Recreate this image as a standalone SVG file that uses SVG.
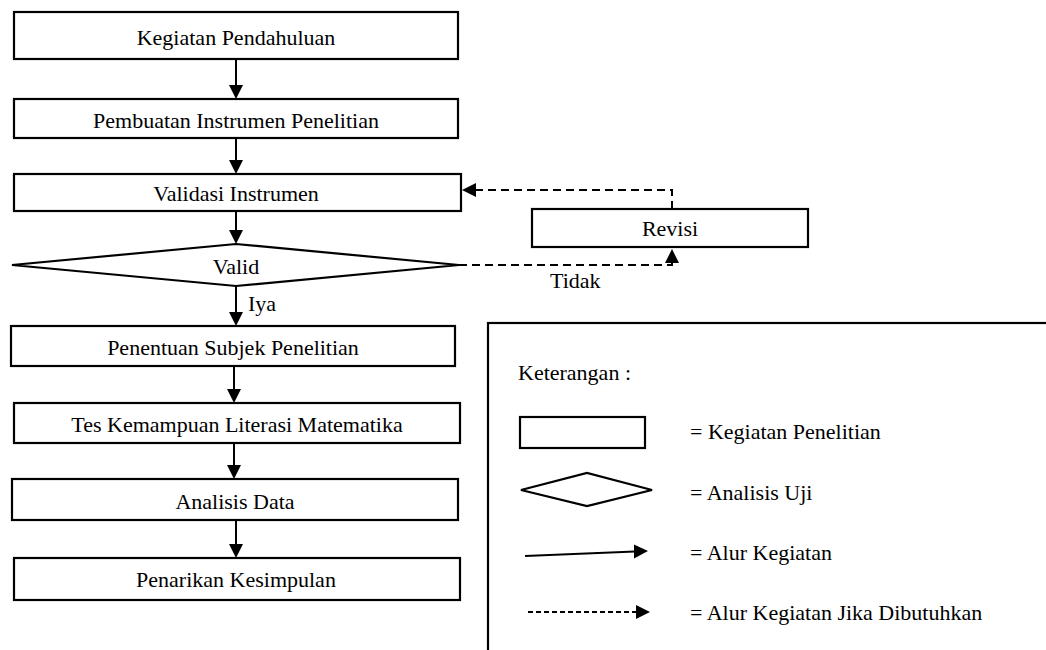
<svg xmlns="http://www.w3.org/2000/svg" width="1046" height="650" viewBox="0 0 1046 650">
<style>
.box{fill:#fff;stroke:#000;stroke-width:2.2}
.ln{stroke:#000;stroke-width:2;fill:none}
.ds{stroke:#000;stroke-width:2;fill:none;stroke-dasharray:8 5}
.ah{fill:#000;stroke:none}
</style>
<rect width="1046" height="650" fill="#fff"/>
<g id="legend">
<rect x="488" y="323" width="620" height="400" class="box"/>
<text x="518" y="380" font-family="Liberation Serif, serif" font-size="22">Keterangan :</text>
<rect x="520" y="417" width="125" height="31" class="box"/>
<text x="690" y="439" font-family="Liberation Serif, serif" font-size="22">= Kegiatan  Penelitian</text>
<polygon points="521,490 587,473 652,490 587,506" class="box"/>
<text x="690" y="500" font-family="Liberation Serif, serif" font-size="22">= Analisis  Uji</text>
<line x1="525" y1="556" x2="635" y2="551.5" class="ln"/>
<polygon points="634,544.5 634,558.5 648,551" class="ah"/>
<text x="690" y="560" font-family="Liberation Serif, serif" font-size="22">= Alur  Kegiatan</text>
<line x1="528" y1="612" x2="636" y2="612" class="ln" stroke-dasharray="5 3"/>
<polygon points="636,605 636,619 650,612" class="ah"/>
<text x="690" y="620" font-family="Liberation Serif, serif" font-size="22">= Alur  Kegiatan  Jika  Dibutuhkan</text>
</g>
<g id="connectors">
<line x1="236" y1="59" x2="236" y2="86" class="ln"/><polygon points="229,85 243,85 236,99" class="ah"/>
<line x1="236" y1="138" x2="236" y2="161" class="ln"/><polygon points="229,160 243,160 236,174" class="ah"/>
<line x1="236" y1="211" x2="236" y2="231" class="ln"/><polygon points="229,230 243,230 236,244" class="ah"/>
<line x1="236" y1="286" x2="236" y2="313" class="ln"/><polygon points="229,312 243,312 236,326" class="ah"/>
<line x1="234" y1="366" x2="234" y2="390" class="ln"/><polygon points="227,389 241,389 234,403" class="ah"/>
<line x1="234" y1="443" x2="234" y2="466" class="ln"/><polygon points="227,465 241,465 234,479" class="ah"/>
<line x1="236" y1="520" x2="236" y2="545" class="ln"/><polygon points="229,544 243,544 236,558" class="ah"/>
<polyline points="459,265 672,265 672,262" class="ds"/><polygon points="665,263 679,263 672,249" class="ah"/>
<polyline points="672,209 672,190 476,190" class="ds"/><polygon points="476,183 476,197 462,190" class="ah"/>
<text x="550" y="288" font-family="Liberation Serif, serif" font-size="22">Tidak</text>
<text x="248" y="311" font-family="Liberation Serif, serif" font-size="22">Iya</text>
</g>
<g id="n1"><rect x="14" y="12" width="444" height="47" class="box"/><text x="236" y="45" text-anchor="middle" font-family="Liberation Serif, serif" font-size="22">Kegiatan  Pendahuluan</text></g>
<g id="n2"><rect x="14" y="99" width="444" height="39" class="box"/><text x="236" y="128" text-anchor="middle" font-family="Liberation Serif, serif" font-size="22">Pembuatan Instrumen Penelitian</text></g>
<g id="n3"><rect x="14" y="174" width="447" height="37" class="box"/><text x="236" y="201" text-anchor="middle" font-family="Liberation Serif, serif" font-size="22">Validasi  Instrumen</text></g>
<g id="n4"><polygon points="12,265 236,244 459,265 236,286" class="box"/><text x="236" y="274" text-anchor="middle" font-family="Liberation Serif, serif" font-size="22">Valid</text></g>
<g id="revisi"><rect x="532" y="209" width="276" height="38" class="box"/><text x="670" y="236" text-anchor="middle" font-family="Liberation Serif, serif" font-size="22">Revisi</text></g>
<g id="n5"><rect x="11" y="326" width="444" height="40" class="box"/><text x="233" y="355" text-anchor="middle" font-family="Liberation Serif, serif" font-size="22">Penentuan  Subjek Penelitian</text></g>
<g id="n6"><rect x="14" y="403" width="446" height="40" class="box"/><text x="237" y="432" text-anchor="middle" font-family="Liberation Serif, serif" font-size="22">Tes Kemampuan  Literasi  Matematika</text></g>
<g id="n7"><rect x="12" y="479" width="446" height="41" class="box"/><text x="235" y="509" text-anchor="middle" font-family="Liberation Serif, serif" font-size="22">Analisis  Data</text></g>
<g id="n8"><rect x="14" y="558" width="446" height="42" class="box"/><text x="236" y="587" text-anchor="middle" font-family="Liberation Serif, serif" font-size="22">Penarikan  Kesimpulan</text></g>
</svg>
